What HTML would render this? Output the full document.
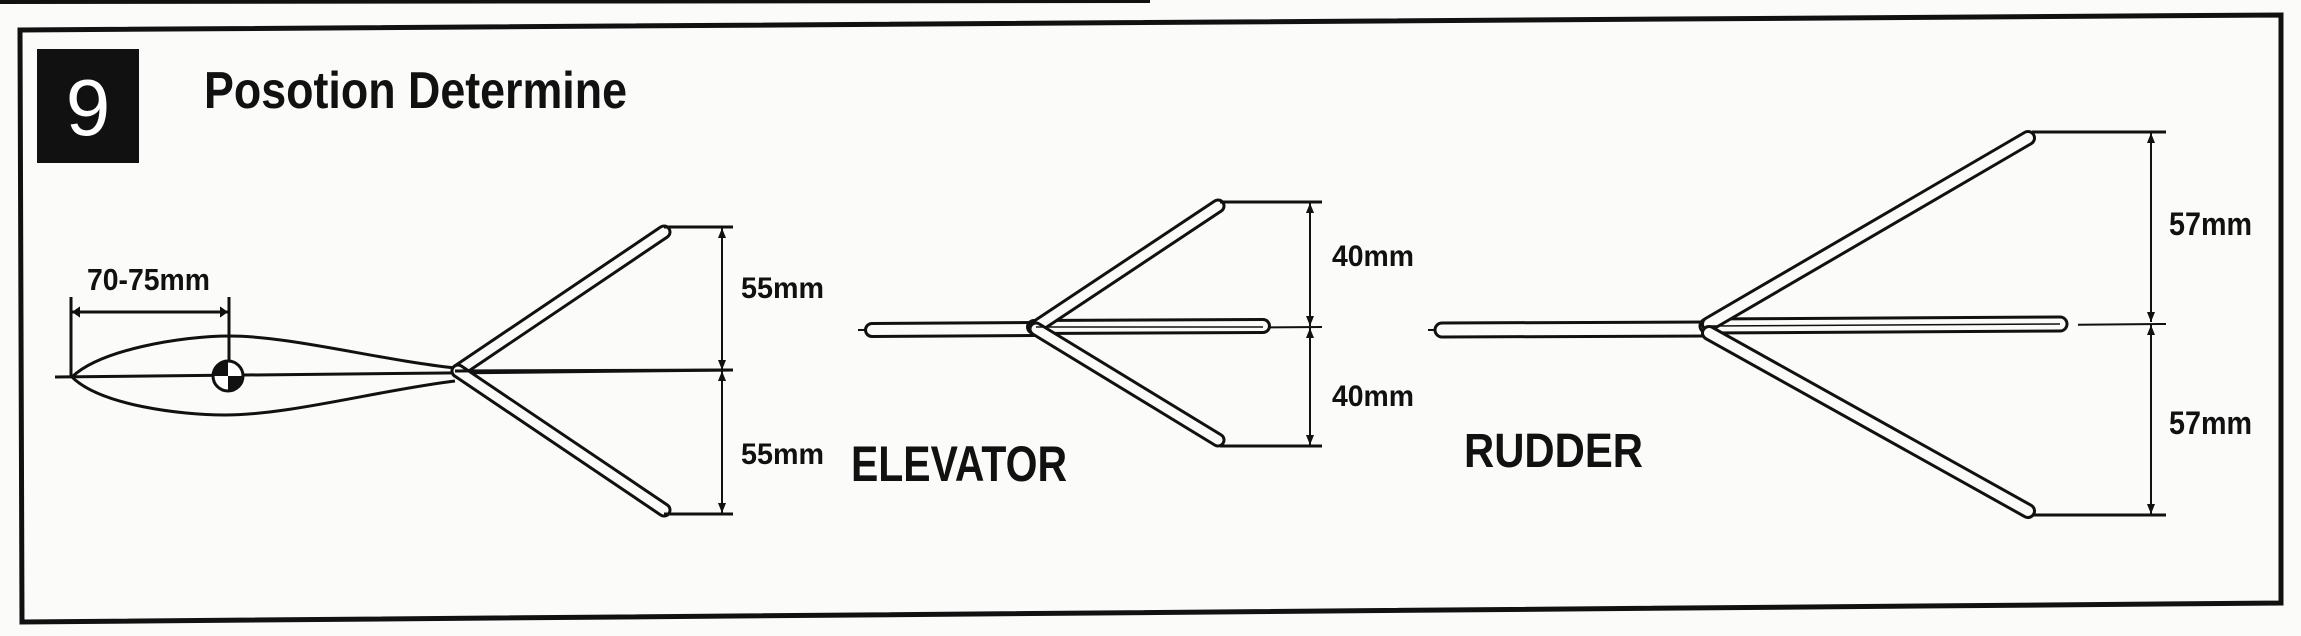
<!DOCTYPE html>
<html><head><meta charset="utf-8"><style>
html,body{margin:0;padding:0;background:#fbfbf9;}
svg{display:block}
text{font-family:"Liberation Sans",sans-serif;font-weight:bold;fill:#111}
</style></head><body>
<svg width="2301" height="636" viewBox="0 0 2301 636" xmlns="http://www.w3.org/2000/svg">
<defs>
<marker id="a" viewBox="0 0 10 10" refX="10" refY="5" markerWidth="10" markerHeight="10" markerUnits="userSpaceOnUse" orient="auto-start-reverse"><path d="M0,1 L10,5 L0,9z" fill="#111"/></marker>
<marker id="b" viewBox="0 0 10 20" refX="10" refY="10" markerWidth="8" markerHeight="18" markerUnits="userSpaceOnUse" orient="auto-start-reverse"><path d="M0,3 L10,10 L0,17z" fill="#111"/></marker>
</defs>
<rect width="2301" height="636" fill="#fbfbf9"/>
<line x1="0" y1="2" x2="1150" y2="1" stroke="#111" stroke-width="4"/>
<polygon points="20,30 2281,15 2281,603 22,622" fill="none" stroke="#111" stroke-width="5"/>
<rect x="37" y="49" width="102" height="114" fill="#111"/>
<text x="88" y="135" font-size="80" style="font-weight:normal;fill:#fff" text-anchor="middle">9</text>
<text x="204" y="108" font-size="52" textLength="423" lengthAdjust="spacingAndGlyphs">Posotion Determine</text>

<!-- fuselage -->
<line x1="55" y1="377" x2="733" y2="370" stroke="#111" stroke-width="3"/>
<path d="M72,377 C100,350 180,336 230,336 C290,336 380,360 455,368" fill="none" stroke="#111" stroke-width="3"/>
<path d="M72,377 C100,405 180,415 225,415 C290,415 380,390 455,381" fill="none" stroke="#111" stroke-width="3"/>
<circle cx="228" cy="376" r="15" fill="#fff" stroke="#111" stroke-width="3"/>
<path d="M228,376 L228,361 A15,15 0 0 0 213,376z" fill="#111"/>
<path d="M228,376 L228,391 A15,15 0 0 0 243,376z" fill="#111"/>
<line x1="71" y1="297" x2="71" y2="377" stroke="#111" stroke-width="3"/>
<line x1="229" y1="297" x2="229" y2="360" stroke="#111" stroke-width="3"/>
<line x1="72" y1="312" x2="228" y2="312" stroke="#111" stroke-width="3" marker-start="url(#b)" marker-end="url(#b)"/>
<text x="87" y="290" font-size="31" textLength="123" lengthAdjust="spacingAndGlyphs">70-75mm</text>

<!-- V tail 1 -->
<g stroke-linecap="round">
<line x1="458" y1="371" x2="664" y2="232" stroke="#111" stroke-width="15"/>
<line x1="458" y1="371" x2="664" y2="232" stroke="#fbfbf9" stroke-width="9"/>
<line x1="458" y1="371" x2="664" y2="510" stroke="#111" stroke-width="15"/>
<line x1="458" y1="371" x2="664" y2="510" stroke="#fbfbf9" stroke-width="9"/>
</g>
<line x1="455" y1="371" x2="733" y2="370" stroke="#111" stroke-width="3"/>
<line x1="664" y1="227" x2="733" y2="227" stroke="#111" stroke-width="3"/>
<line x1="664" y1="514" x2="733" y2="514" stroke="#111" stroke-width="3"/>
<line x1="722" y1="228" x2="722" y2="370" stroke="#111" stroke-width="2" marker-start="url(#a)" marker-end="url(#a)"/>
<line x1="722" y1="371" x2="722" y2="513" stroke="#111" stroke-width="2" marker-start="url(#a)" marker-end="url(#a)"/>
<text x="741" y="298" font-size="30" textLength="83" lengthAdjust="spacingAndGlyphs">55mm</text>
<text x="741" y="464" font-size="30" textLength="83" lengthAdjust="spacingAndGlyphs">55mm</text>
<text x="851" y="481" font-size="50" textLength="216" lengthAdjust="spacingAndGlyphs">ELEVATOR</text>

<!-- Elevator -->
<line x1="858" y1="330" x2="1322" y2="327" stroke="#111" stroke-width="2" stroke-dasharray="60,8,6,8"/>
<g stroke-linecap="round">
<line x1="872" y1="330" x2="1034" y2="329" stroke="#111" stroke-width="16"/>
<line x1="872" y1="330" x2="1034" y2="329" stroke="#fbfbf9" stroke-width="10"/>
<line x1="1034" y1="327" x2="1263" y2="326" stroke="#111" stroke-width="16"/>
<line x1="1034" y1="327" x2="1263" y2="326" stroke="#fbfbf9" stroke-width="10"/>
<line x1="1036" y1="327" x2="1218" y2="206" stroke="#111" stroke-width="15"/>
<line x1="1036" y1="327" x2="1218" y2="206" stroke="#fbfbf9" stroke-width="9"/>
<line x1="1036" y1="329" x2="1218" y2="440" stroke="#111" stroke-width="15"/>
<line x1="1036" y1="329" x2="1218" y2="440" stroke="#fbfbf9" stroke-width="9"/>
</g>
<line x1="1036" y1="327" x2="1263" y2="327" stroke="#111" stroke-width="1.5"/>
<line x1="1220" y1="202" x2="1322" y2="202" stroke="#111" stroke-width="3"/>
<line x1="1220" y1="446" x2="1322" y2="446" stroke="#111" stroke-width="3"/>
<line x1="1310" y1="203" x2="1310" y2="326" stroke="#111" stroke-width="2" marker-start="url(#a)" marker-end="url(#a)"/>
<line x1="1310" y1="328" x2="1310" y2="445" stroke="#111" stroke-width="2" marker-start="url(#a)" marker-end="url(#a)"/>
<text x="1332" y="266" font-size="30" textLength="82" lengthAdjust="spacingAndGlyphs">40mm</text>
<text x="1332" y="406" font-size="30" textLength="82" lengthAdjust="spacingAndGlyphs">40mm</text>

<!-- Rudder -->
<text x="1464" y="467" font-size="48" textLength="179" lengthAdjust="spacingAndGlyphs">RUDDER</text>
<line x1="1428" y1="330" x2="2166" y2="324" stroke="#111" stroke-width="2" stroke-dasharray="600,10,30,10"/>
<g stroke-linecap="round">
<line x1="1442" y1="330" x2="1707" y2="329" stroke="#111" stroke-width="17"/>
<line x1="1442" y1="330" x2="1707" y2="329" stroke="#fbfbf9" stroke-width="11"/>
<line x1="1707" y1="326" x2="2060" y2="324" stroke="#111" stroke-width="17"/>
<line x1="1707" y1="326" x2="2060" y2="324" stroke="#fbfbf9" stroke-width="11"/>
<line x1="1709" y1="324" x2="2028" y2="138" stroke="#111" stroke-width="16"/>
<line x1="1709" y1="324" x2="2028" y2="138" stroke="#fbfbf9" stroke-width="10"/>
<line x1="1709" y1="333" x2="2028" y2="511" stroke="#111" stroke-width="16"/>
<line x1="1709" y1="333" x2="2028" y2="511" stroke="#fbfbf9" stroke-width="10"/>
</g>
<line x1="1709" y1="326" x2="2060" y2="324" stroke="#111" stroke-width="1.5"/>
<line x1="2032" y1="132" x2="2166" y2="132" stroke="#111" stroke-width="3"/>
<line x1="2032" y1="515" x2="2166" y2="515" stroke="#111" stroke-width="3"/>
<line x1="2151" y1="133" x2="2151" y2="322" stroke="#111" stroke-width="2" marker-start="url(#a)" marker-end="url(#a)"/>
<line x1="2151" y1="325" x2="2151" y2="514" stroke="#111" stroke-width="2" marker-start="url(#a)" marker-end="url(#a)"/>
<text x="2169" y="235" font-size="32" textLength="83" lengthAdjust="spacingAndGlyphs">57mm</text>
<text x="2169" y="434" font-size="32" textLength="83" lengthAdjust="spacingAndGlyphs">57mm</text>
</svg>
</body></html>
